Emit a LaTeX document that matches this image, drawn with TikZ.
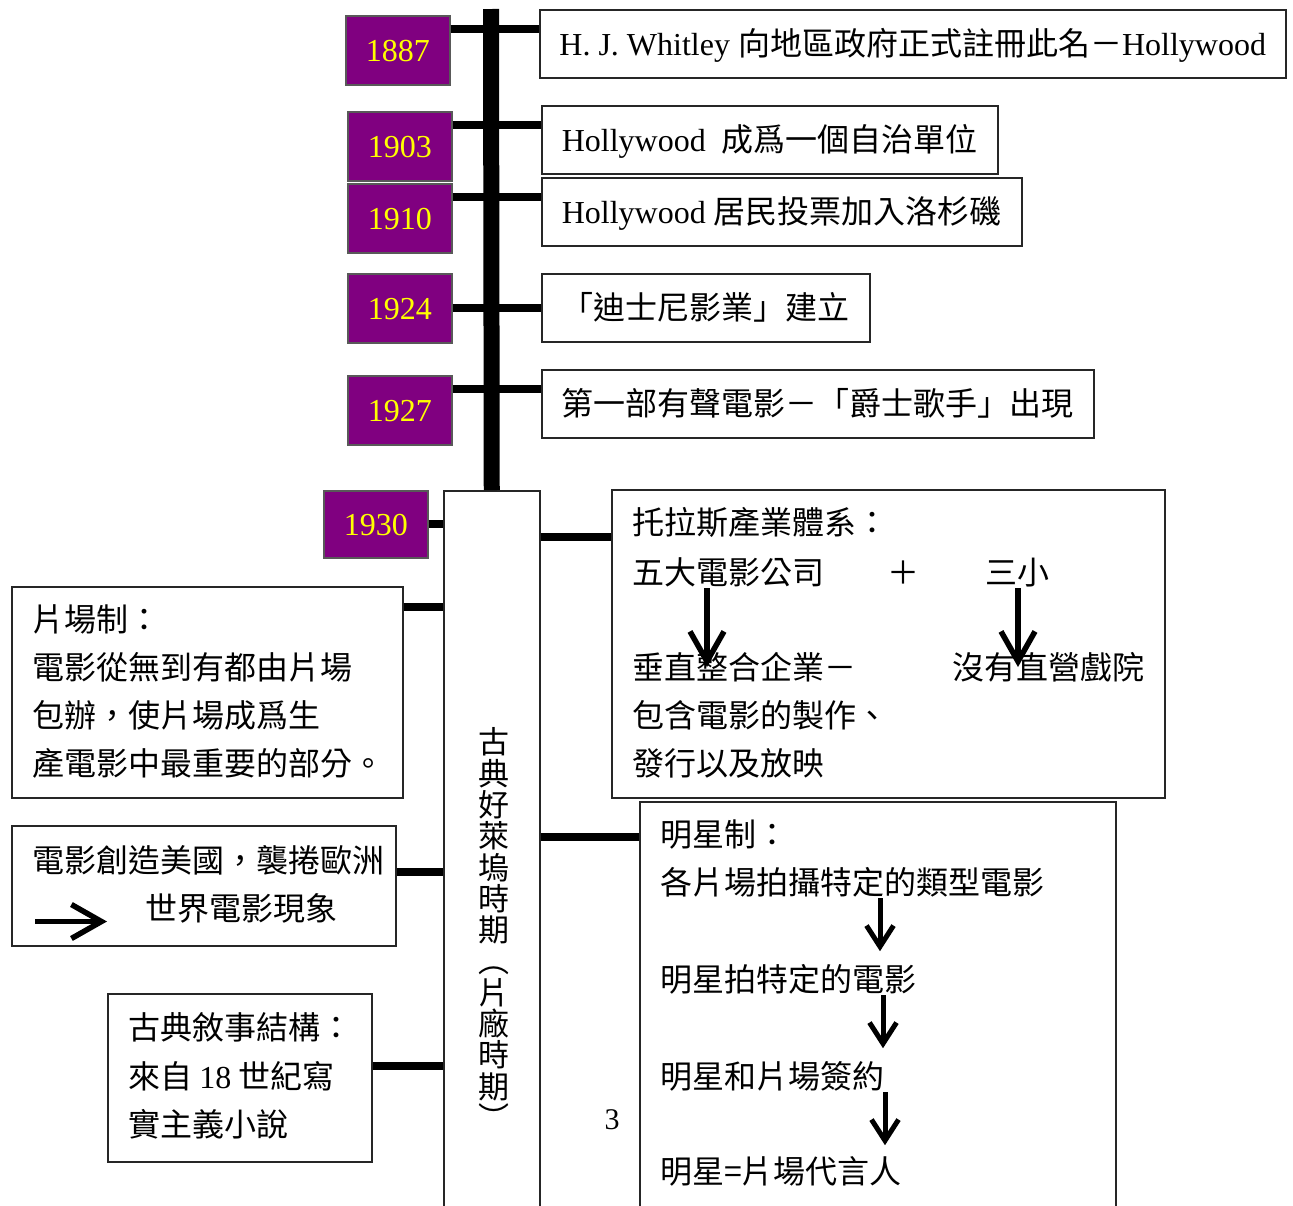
\documentclass[tikz,border=0pt]{standalone}
\usepackage{fontspec}
\setmainfont{Liberation Serif}
\newfontfamily\cjk{Noto Sans CJK TC}
\usetikzlibrary{arrows.meta}
\definecolor{yearpurple}{HTML}{800080}
\definecolor{yearyellow}{HTML}{FFFF00}
\tikzset{
  yearbox/.style={draw=black!65, line width=1.5pt, fill=yearpurple, text=yearyellow, anchor=north west, inner sep=0pt,
    minimum width=104, minimum height=69, font=\fontsize{32}{38}\selectfont, text height=21.8pt, text depth=0pt},
  evbox/.style={draw=black!85, line width=1.5pt, anchor=north west, inner sep=0pt, minimum height=68,
    font=\fontsize{32}{38}\selectfont, text height=28.2pt, text depth=3.8pt},
  framebox/.style={draw=black!85, line width=1.5pt, anchor=north west, inner sep=0pt},
  txt/.style={anchor=west, inner sep=0pt, font=\fontsize{32}{48}\selectfont\cjk, text height=28.2pt, text depth=3.8pt},
  vchar/.style={inner sep=0pt, font=\fontsize{31}{31}\selectfont\cjk, text height=27.3pt, text depth=3.7pt},
  conn/.style={line width=8pt},
  bar/.style={line width=16pt},
  bigarrow/.style={line width=5.5pt, -{Straight Barb[length=30pt, width=34pt]}},
  smallarrow/.style={line width=5pt, -{Straight Barb[length=21pt, width=27pt]}},
}
\begin{document}
\begin{tikzpicture}[x=1pt, y=-1pt]
        \useasboundingbox (0,0) rectangle (1293,1205);
        %
        \node[framebox, minimum width=96, minimum height=725] (big) at (443,490) {};
        \coordinate (bartop) at (491,9);
        \draw[bar] (bartop) -- (big.north);
        %
        \node[yearbox] (y1887) at (345,15) {1887};
        \node[yearbox] (y1903) at (347,111) {1903};
        \node[yearbox] (y1910) at (347,183) {1910};
        \node[yearbox] (y1924) at (347,273) {1924};
        \node[yearbox] (y1927) at (347,375) {1927};
        \node[yearbox, minimum height=67] (y1930) at (323,490) {1930};
        %
        \node[evbox, minimum width=746] (e1887) at (539,9) {H. J. Whitley {\cjk 向地區政府正式註冊此名－}Hollywood};
        \node[evbox, minimum width=456] (e1903) at (541,105) {Hollywood\ \ {\cjk 成爲一個自治單位}};
        \node[evbox, minimum width=480] (e1910) at (541,177) {Hollywood {\cjk 居民投票加入洛杉磯}};
        \node[evbox, minimum width=328] (e1924) at (541,273) {\cjk 「迪士尼影業」建立};
        \node[evbox, minimum width=552] (e1927) at (541,369) {\cjk 第一部有聲電影－「爵士歌手」出現};
        %
        \foreach \yr/\dy in {1887/14,1903/14,1910/14,1924/35,1927/14}{
            \coordinate (k\yr) at ([yshift=-\dy pt]y\yr.north east);
            \draw[conn] (k\yr) -- (k\yr -| e\yr.west);
        }
        \draw[conn] (y1930.east) -- (y1930.east -| big.west);
        %
        \foreach \c [count=\i] in {古,典,好,萊,塢,時,期,︵,片,廠,時,期,︶}
            \node[vchar] (v\i) at (494,{742+(\i-1)*31.3}) {\c};
        %
        \node[framebox, minimum width=553, minimum height=308] (toras) at (611,489) {};
        \node[txt] (tr1) at (632,522) {托拉斯產業體系：};
        \node[txt] (tr2) at (632,572) {五大電影公司};
        \node[txt, anchor=center] (plus) at (903,572) {＋};
        \node[txt] (tr3) at (985,572) {三小};
        \node[txt] (tr4) at (632,667) {垂直整合企業－};
        \node[txt] (tr5) at (952,667) {沒有直營戲院};
        \node[txt] (tr6) at (632,715) {包含電影的製作、};
        \node[txt] (tr7) at (632,763) {發行以及放映};
        \draw[bigarrow] ([xshift=75pt]tr2.south west) -- ([xshift=75pt]tr2.south west |- tr4.west);
        \draw[bigarrow] ([xshift=33pt]tr3.south west) -- ([xshift=33pt]tr3.south west |- tr5.west);
        \coordinate (kt) at ([yshift=-48pt]toras.north west);
        \draw[conn] (big.east |- kt) -- (kt);
        %
        \node[framebox, minimum width=391, minimum height=211] (studio) at (11,586) {};
        \node[txt] (st1) at (32,619) {片場制：};
        \node[txt] (st2) at (32,667) {電影從無到有都由片場};
        \node[txt] (st3) at (32,715) {包辦，使片場成爲生};
        \node[txt] (st4) at (32,763) {產電影中最重要的部分。};
        \coordinate (ks) at ([yshift=-21pt]studio.north east);
        \draw[conn] (ks) -- (ks -| big.west);
        %
        \node[framebox, minimum width=384, minimum height=120] (world) at (11,825) {};
        \node[txt] (w1) at (32,860) {電影創造美國，襲捲歐洲};
        \node[txt] (w2) at (145,908) {世界電影現象};
        \draw[bigarrow] ([shift={(24,-25)}]world.south west) -- ++(72,0);
        \coordinate (kw) at ([yshift=-47pt]world.north east);
        \draw[conn] (kw) -- (kw -| big.west);
        %
        \node[framebox, minimum width=264, minimum height=168] (narr) at (107,993) {};
        \node[txt] (n1) at (128,1027) {古典敘事結構：};
        \node[txt] (n2) at (128,1076) {來自 {\rmfamily 18} 世紀寫};
        \node[txt] (n3) at (128,1124) {實主義小說};
        \coordinate (kn) at ([yshift=-73pt]narr.north east);
        \draw[conn] (kn) -- (kn -| big.west);
        %
        \node[framebox, minimum width=476, minimum height=414] (star) at (639,801) {};
        \node[txt] (s1) at (660,834) {明星制：};
        \node[txt] (s2) at (660,882) {各片場拍攝特定的類型電影};
        \node[txt] (s3) at (660,979) {明星拍特定的電影};
        \node[txt] (s4) at (660,1076) {明星和片場簽約};
        \node[txt] (s5) at (660,1171) {明星=片場代言人};
        \draw[smallarrow] ([xshift=220pt]s2.south west) -- ++(0,53);
        \draw[smallarrow] ([xshift=223pt]s3.south west) -- ++(0,53);
        \draw[smallarrow] ([xshift=225pt]s4.south west) -- ++(0,53);
        \coordinate (km) at ([yshift=-36pt]star.north west);
        \draw[conn] (big.east |- km) -- (km);
        %
        \node[inner sep=0pt, font=\fontsize{30}{36}\selectfont] (pg) at (612,1120) {3};
    \end{tikzpicture}
\end{document}
